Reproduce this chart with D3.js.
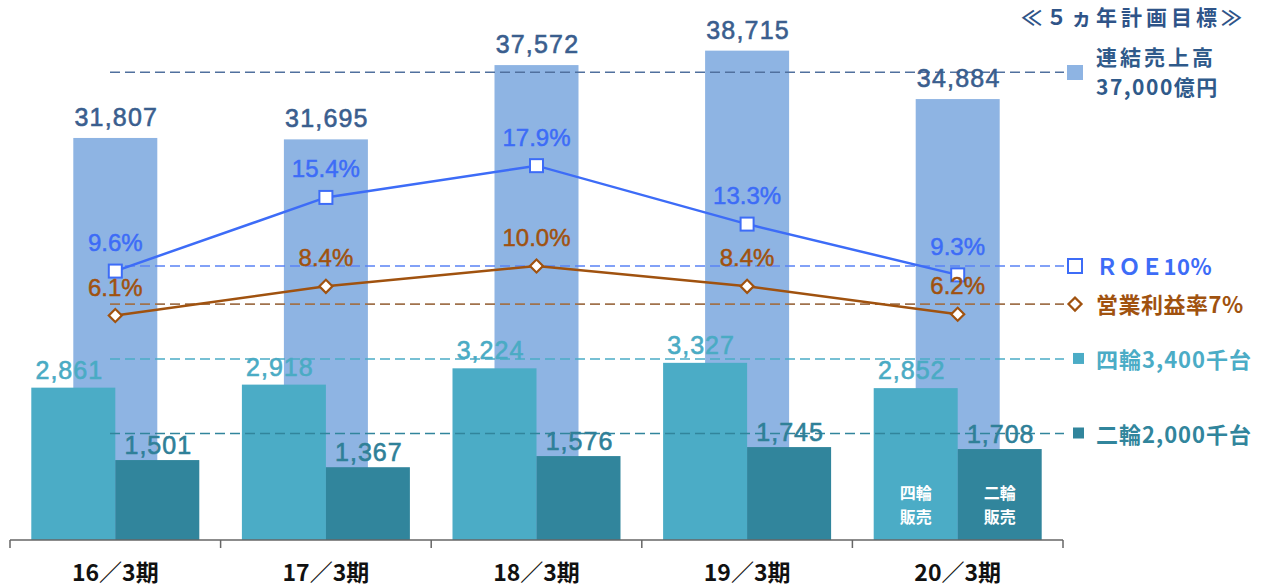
<!DOCTYPE html>
<html>
<head>
<meta charset="utf-8">
<script src="https://cdn.jsdelivr.net/npm/d3@7"></script>
<style>
  html, body { margin: 0; padding: 0; background: #fff; }
  svg { display: block; }
</style>
</head>
<body>
<svg id="chart" width="1275" height="587"></svg>
<script>
// ---- data ----
const categories = ["16／3期", "17／3期", "18／3期", "19／3期", "20／3期"];
const sales = [31807, 31695, 37572, 38715, 34884];        // 連結売上高 (億円)
const roe = [9.6, 15.4, 17.9, 13.3, 9.3];                 // ROE (%)
const opMargin = [6.1, 8.4, 10.0, 8.4, 6.2];              // 営業利益率 (%)
const fourWheel = [2861, 2918, 3224, 3327, 2852];         // 四輪販売 (千台)
const twoWheel = [1501, 1367, 1576, 1745, 1708];          // 二輪販売 (千台)
const salesTarget = 37000, roeTarget = 10, opTarget = 7, fourTarget = 3400, twoTarget = 2000;
const titleText = "≪５ヵ年計画目標≫";
const legendSales = ["連結売上高", "37,000億円"];
const legendRoe = "ＲＯＥ10%";
const legendOp = "営業利益率7%";
const legendFour = "四輪3,400千台";
const legendTwo = "二輪2,000千台";
const innerFour = ["四輪", "販売"];
const innerTwo = ["二輪", "販売"];

// ---- styles ----
const C = {
  salesBar: "#8eb4e3", salesText: "#3a5e8e", salesDash: "#50709e",
  four: "#4bacc6", fourText: "#4aabc4",
  two: "#31859c", twoText: "#2f8098",
  roe: "#3d6cf7", roeDash: "#5a82f5",
  op: "#a0520f", opDash: "#a0724c",
  axis: "#666"
};
const numFont = "'Liberation Sans', Arial, sans-serif";
const jpFont = "'Noto Sans CJK JP', 'Noto Sans CJK SC', sans-serif";

const svg = d3.select("#chart");
const baseY = 540;

const x = d3.scaleBand().domain(categories).range([10, 1063]).padding(0);
const ySales = d3.scaleLinear().domain([0, 40000]).range([baseY, baseY - 505.6]);
const yUnits = d3.scaleLinear().domain([0, 4000]).range([baseY, baseY - 213]);
const yPct = d3.scaleLinear().domain([0, 10]).range([393, 266]);

const barW = 84;
const cx = i => x(categories[i]) + x.bandwidth() / 2;
const idx = d3.range(categories.length);
const fmt = d3.format(",");
const pfmt = v => d3.format(".1f")(v) + "%";

// sales bars
svg.append("g").selectAll("rect").data(idx).join("rect")
  .attr("x", i => cx(i) - barW / 2).attr("width", barW)
  .attr("y", i => ySales(sales[i])).attr("height", i => baseY - ySales(sales[i]))
  .attr("fill", C.salesBar);

// four-wheel bars
svg.append("g").selectAll("rect").data(idx).join("rect")
  .attr("x", i => cx(i) - barW).attr("width", barW)
  .attr("y", i => yUnits(fourWheel[i])).attr("height", i => baseY - yUnits(fourWheel[i]))
  .attr("fill", C.four);

// two-wheel bars
svg.append("g").selectAll("rect").data(idx).join("rect")
  .attr("x", i => cx(i)).attr("width", barW)
  .attr("y", i => yUnits(twoWheel[i])).attr("height", i => baseY - yUnits(twoWheel[i]))
  .attr("fill", C.two);

// x axis
const axisG = svg.append("g").attr("transform", `translate(0,${baseY})`);
axisG.append("line").attr("x1", x.range()[0]).attr("x2", x.range()[1])
  .attr("y1", 0).attr("y2", 0).attr("stroke", C.axis).attr("stroke-width", 1.5);
const bounds = categories.map(c => x(c)).concat([x.range()[1]]);
axisG.selectAll("line.tk").data(bounds).join("line").attr("class", "tk")
  .attr("x1", d => d).attr("x2", d => d).attr("y1", 0).attr("y2", 8)
  .attr("stroke", C.axis).attr("stroke-width", 1.5);
const xAxis = d3.axisBottom(x).tickSize(0).tickPadding(0);
const xa = svg.append("g").attr("transform", `translate(0,${baseY})`).call(xAxis);
xa.select(".domain").remove();
xa.selectAll("text").attr("dy", 0).attr("y", 41)
  .attr("font-family", jpFont).attr("font-weight", "bold").attr("font-size", 23)
  .attr("fill", "#111");

// target dashed lines
const dashX1 = 110, dashX2 = 1064;
const targets = [
  { y: ySales(salesTarget), c: C.salesDash },
  { y: yPct(roeTarget), c: C.roeDash },
  { y: yPct(opTarget), c: C.opDash },
  { y: yUnits(fourTarget), c: C.four },
  { y: yUnits(twoTarget), c: C.two }
];
svg.append("g").selectAll("line").data(targets).join("line")
  .attr("x1", dashX1).attr("x2", dashX2).attr("y1", d => d.y).attr("y2", d => d.y)
  .attr("stroke", d => d.c).attr("stroke-width", 1.6).attr("stroke-dasharray", "10,5");

// bar value labels
const lab = (data, fn, xf, yf, color, spacing) =>
  svg.append("g").selectAll("text").data(idx).join("text")
    .attr("x", xf).attr("y", yf).attr("text-anchor", "middle")
    .attr("font-family", numFont).attr("font-size", 25)
    .attr("letter-spacing", spacing)
    .attr("fill", color).attr("stroke", color).attr("stroke-width", 0.6)
    .text(i => fn(data[i]));

lab(sales, fmt, i => cx(i) + 1, i => ySales(sales[i]) - 12, C.salesText, 1.2);
lab(fourWheel, fmt, i => cx(i) - barW / 2 - 4, i => yUnits(fourWheel[i]) - 9, C.fourText, 1);
lab(twoWheel, fmt, i => cx(i) + barW / 2 + 1, i => yUnits(twoWheel[i]) - 6, C.twoText, 1);

// inner labels in last period
const last = categories.length - 1;
[[innerFour, cx(last) - barW / 2], [innerTwo, cx(last) + barW / 2]].forEach(([lines, xx]) => {
  lines.forEach((s, k) => svg.append("text").attr("text-anchor", "middle")
    .attr("font-family", jpFont).attr("font-weight", "bold").attr("font-size", 16)
    .attr("fill", "#fff").attr("x", xx).attr("y", 499 + k * 24).text(s));
});

// lines
const lineGen = d3.line().x((d, i) => cx(i)).y(d => yPct(d));
svg.append("path").datum(opMargin).attr("d", lineGen).attr("fill", "none")
  .attr("stroke", C.op).attr("stroke-width", 2.5);
svg.append("path").datum(roe).attr("d", lineGen).attr("fill", "none")
  .attr("stroke", C.roe).attr("stroke-width", 2.5);

// markers
const sq = 13;
svg.append("g").selectAll("rect").data(idx).join("rect")
  .attr("x", i => cx(i) - sq / 2).attr("y", i => yPct(roe[i]) - sq / 2)
  .attr("width", sq).attr("height", sq)
  .attr("fill", "#fff").attr("stroke", C.roe).attr("stroke-width", 2);
svg.append("g").selectAll("path").data(idx).join("path")
  .attr("transform", i => `translate(${cx(i)},${yPct(opMargin[i])}) rotate(45)`)
  .attr("d", d3.symbol().type(d3.symbolSquare).size(85))
  .attr("fill", "#fff").attr("stroke", C.op).attr("stroke-width", 2.2);

// pct labels
const plab = (data, color) =>
  svg.append("g").selectAll("text").data(idx).join("text")
    .attr("x", i => cx(i)).attr("y", i => yPct(data[i]) - 20).attr("text-anchor", "middle")
    .attr("font-family", numFont).attr("font-size", 24)
    .attr("fill", color).attr("stroke", color).attr("stroke-width", 0.5)
    .text(i => pfmt(data[i]));
plab(roe, C.roe);
plab(opMargin, C.op);

// title
svg.append("text").attr("x", 1246).attr("y", 25).attr("text-anchor", "end")
  .attr("font-family", jpFont).attr("font-weight", "bold").attr("font-size", 21)
  .attr("letter-spacing", 4).attr("fill", "#2f5488").text(titleText);

// legend
const lx = 1096;
svg.append("rect").attr("x", 1067).attr("y", 65).attr("width", 16).attr("height", 15).attr("fill", C.salesBar);
legendSales.forEach((s, k) => svg.append("text").attr("x", lx).attr("y", 65 + k * 30)
  .attr("font-family", jpFont).attr("font-weight", "bold")
  .attr("font-size", 21).attr("fill", "#2f5a8a")
  .attr("letter-spacing", k === 0 ? 3 : 1.5).text(s));

const legY = [
  { y: yPct(roeTarget), text: legendRoe, c: C.roe, ls: 0.5 },
  { y: yPct(opTarget), text: legendOp, c: C.op, ls: 0.5 },
  { y: yUnits(fourTarget), text: legendFour, c: C.four, ls: 1 },
  { y: yUnits(twoTarget), text: legendTwo, c: C.two, ls: 1 }
];
svg.append("rect").attr("x", 1068).attr("y", legY[0].y - 7).attr("width", 14).attr("height", 14)
  .attr("fill", "#fff").attr("stroke", C.roe).attr("stroke-width", 2);
svg.append("path").attr("transform", `translate(1075,${legY[1].y}) rotate(45)`)
  .attr("d", d3.symbol().type(d3.symbolSquare).size(85))
  .attr("fill", "#fff").attr("stroke", C.op).attr("stroke-width", 2.2);
svg.append("rect").attr("x", 1073).attr("y", legY[2].y - 6).attr("width", 11).attr("height", 11).attr("fill", C.four);
svg.append("rect").attr("x", 1073).attr("y", legY[3].y - 6).attr("width", 11).attr("height", 11).attr("fill", C.two);
svg.append("g").selectAll("text").data(legY).join("text")
  .attr("x", lx).attr("y", d => d.y + 9)
  .attr("font-family", jpFont).attr("font-weight", "bold").attr("font-size", 22)
  .attr("letter-spacing", d => d.ls).attr("fill", d => d.c).text(d => d.text);
</script>
</body>
</html>
